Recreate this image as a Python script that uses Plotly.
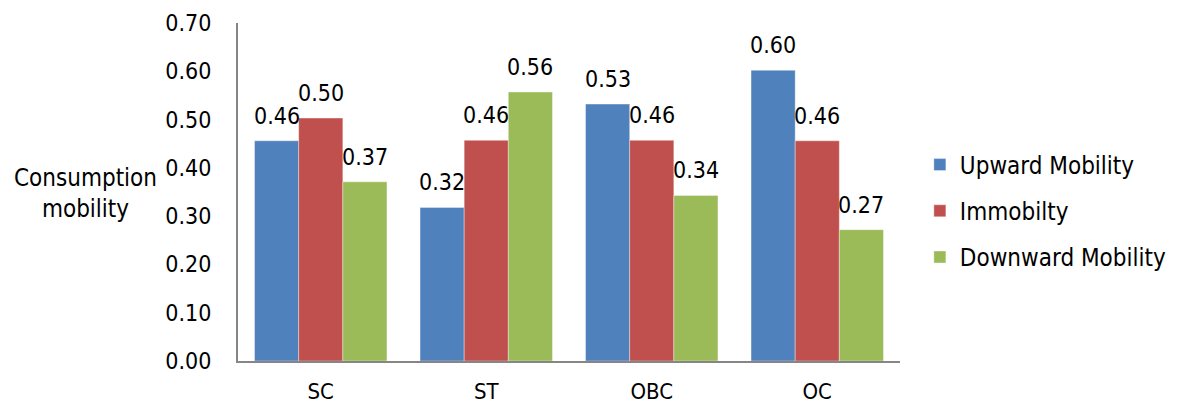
import plotly.graph_objects as go

categories = ["SC", "ST", "OBC", "OC"]
upward = [0.456, 0.318, 0.532, 0.602]
immobility = [0.503, 0.457, 0.457, 0.456]
downward = [0.371, 0.557, 0.343, 0.272]
series_names = ["Upward Mobility", "Immobilty", "Downward Mobility"]
colors = ["#4F81BD", "#C0504D", "#9BBB59"]
y_ticks = [0.0, 0.1, 0.2, 0.3, 0.4, 0.5, 0.6, 0.7]

FONT = "DejaVu Sans Condensed, Liberation Sans Narrow, Liberation Sans, sans-serif"

# page body adds an 8px offset; compensate so plot area lands at x 238..900, y 23..361
OFF = 8
W, H = 1177 - OFF, 410 - OFF
L, R, T, B = 238 - OFF, 277, 23 - OFF, 49
pw = W - L - R
ph = H - T - B

fig = go.Figure()
series_vals = [upward, immobility, downward]
for name, vals, col in zip(series_names, series_vals, colors):
    fig.add_trace(go.Bar(
        x=categories, y=vals, name=name, legendgroup=name,
        marker=dict(color=col, line=dict(color="rgba(255,255,255,0.6)", width=0.6)),
        cliponaxis=False,
    ))

# value labels via annotations anchored at data coordinates
cat_w = pw / len(categories)
bar_w = cat_w * 0.8 / 3
annotations = []
for i, vals in enumerate(series_vals):
    for c, v in zip(categories, vals):
        annotations.append(dict(
            x=c, y=v, xref="x", yref="y", text=f"{v:.2f}", showarrow=False,
            xanchor="center", yanchor="bottom", xshift=(i - 1) * bar_w, yshift=10,
            font=dict(family=FONT, size=23, color="#000000"),
        ))

annotations.append(dict(text="Consumption<br>mobility",
                        x=(85 - 238) / pw, y=(361 - 193) / ph,
                        xref="paper", yref="paper", xanchor="center", yanchor="middle",
                        showarrow=False,
                        font=dict(family=FONT, size=24, color="#000000")))

fig.update_layout(
    width=W, height=H,
    margin=dict(l=L, r=R, t=T, b=B, autoexpand=False),
    paper_bgcolor="white", plot_bgcolor="white",
    barmode="group", bargap=0.2, bargroupgap=0,
    font=dict(family=FONT, size=22, color="#000000"),
    showlegend=True,
    legend=dict(x=1.03, y=(361 - 211) / ph, xanchor="left", yanchor="middle",
                font=dict(family=FONT, size=24, color="#000000"),
                tracegroupgap=12, itemwidth=30),
    xaxis=dict(showline=True, linecolor="#868686", linewidth=2,
               ticks="", tickfont=dict(family=FONT, size=22),
               ticklabelstandoff=10, automargin=False),
    yaxis=dict(range=[0, 0.7], tickvals=y_ticks,
               ticktext=[f"{v:.2f}" for v in y_ticks],
               showline=True, linecolor="#868686", linewidth=2,
               showgrid=False, zeroline=False, ticks="",
               tickfont=dict(family=FONT, size=23),
               ticklabelstandoff=20, automargin=False),
    annotations=annotations,
)

fig.write_html("out.html")
